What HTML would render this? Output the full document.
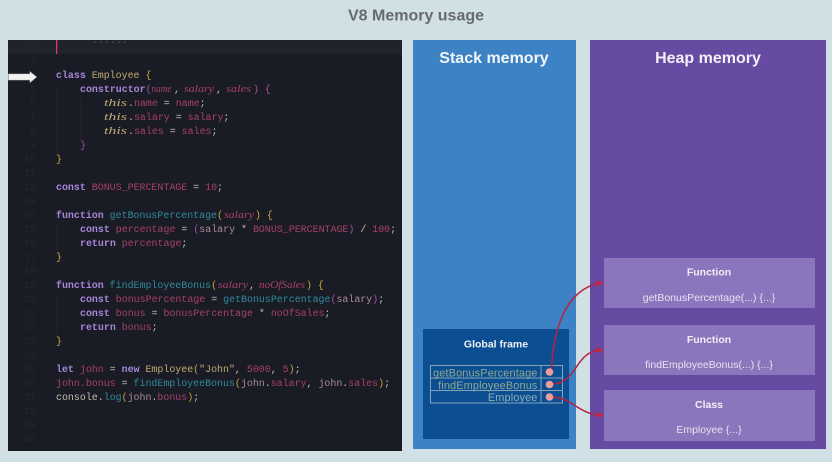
<!DOCTYPE html>
<html>
<head>
<meta charset="utf-8">
<style>
html,body{margin:0;padding:0;width:832px;height:462px;overflow:hidden;background:#d0e0e5}
svg{display:block}
.c text{font-family:"Liberation Mono",monospace;font-size:9.95px;white-space:pre}
.n text{font-family:"Liberation Mono",monospace;font-size:9.95px;fill:#24272f}
.k{fill:#a586d8;font-weight:bold}
.v{fill:#a83f68}
.f{fill:#2f8a9c}
.p{fill:#c0aa70}
.w{fill:#c4beaf}
.y{fill:#c9a43c}
.m{fill:#a24fa0}
.c text.i{fill:#a83f68;font-style:italic;font-family:"Liberation Serif",serif;font-size:10.5px}
.c text.t{fill:#c0aa70;font-style:italic;font-family:"Liberation Serif",serif;font-size:11px}
.o{fill:#a88a9a}
.s{font-family:"Liberation Sans",sans-serif}
</style>
</head>
<body>
<svg width="832" height="462" viewBox="0 0 832 462" xmlns="http://www.w3.org/2000/svg">
<defs><filter id="b" x="-2%" y="-2%" width="104%" height="104%"><feGaussianBlur stdDeviation="0.35"/></filter></defs>
<rect width="832" height="462" fill="#d0e0e5"/>
<text class="s" x="416" y="20.500" text-anchor="middle" font-size="16" font-weight="bold" fill="#666b70">V8 Memory usage</text>

<rect x="8" y="40" width="394" height="411" fill="#1a1c25"/>
<rect x="8" y="40" width="394" height="14" fill="#20222c"/>
<rect x="56" y="40" width="1.300" height="14" fill="#d8396a"/>
<g stroke="#23262f" stroke-width="1">
<path d="M57 85V154M81 99V140M57 225V250M57 295V334"/>
</g>
<g class="n" filter="url(#b)">
<text x="30" y="50">2</text><text x="30" y="64">3</text><text x="30" y="92">5</text><text x="30" y="106">6</text><text x="30" y="120">7</text><text x="30" y="134">8</text><text x="30" y="148">9</text>
<text x="24" y="162">10</text><text x="24" y="176">11</text><text x="24" y="190">12</text><text x="24" y="204">13</text><text x="24" y="218">14</text><text x="24" y="232">15</text><text x="24" y="246">16</text><text x="24" y="260">17</text><text x="24" y="274">18</text><text x="24" y="288">19</text><text x="24" y="302">20</text><text x="24" y="316">21</text><text x="24" y="330">22</text><text x="24" y="344">23</text><text x="24" y="358">24</text><text x="24" y="372">25</text><text x="24" y="386">26</text><text x="24" y="400">27</text><text x="24" y="414">28</text><text x="24" y="428">29</text><text x="24" y="442">30</text>
</g>
<g class="c" filter="url(#b)">
<text x="92" y="43" fill="#55576a">......</text>
<text x="56" y="78"><tspan class="k">class</tspan><tspan class="p"> Employee </tspan><tspan class="y">{</tspan></text>
<text x="80" y="92"><tspan class="k">constructor</tspan><tspan class="m">(</tspan></text>
<text x="151.500" y="92" class="i" textLength="20" lengthAdjust="spacingAndGlyphs">name</text><text x="174" y="92" class="w">,</text><text x="184" y="92" class="i" textLength="30" lengthAdjust="spacingAndGlyphs">salary</text><text x="216" y="92" class="w">,</text><text x="226" y="92" class="i" textLength="25" lengthAdjust="spacingAndGlyphs">sales</text><text x="253" y="92" class="m">) {</text>
<text x="104" y="106" class="t" textLength="23" lengthAdjust="spacingAndGlyphs">this</text><text x="128" y="106"><tspan class="w">.</tspan><tspan class="v">name</tspan><tspan class="w"> = </tspan><tspan class="v">name</tspan><tspan class="w">;</tspan></text>
<text x="104" y="120" class="t" textLength="23" lengthAdjust="spacingAndGlyphs">this</text><text x="128" y="120"><tspan class="w">.</tspan><tspan class="v">salary</tspan><tspan class="w"> = </tspan><tspan class="v">salary</tspan><tspan class="w">;</tspan></text>
<text x="104" y="134" class="t" textLength="23" lengthAdjust="spacingAndGlyphs">this</text><text x="128" y="134"><tspan class="w">.</tspan><tspan class="v">sales</tspan><tspan class="w"> = </tspan><tspan class="v">sales</tspan><tspan class="w">;</tspan></text>
<text x="80" y="148" class="m">}</text>
<text x="56" y="162" class="y">}</text>
<text x="56" y="190"><tspan class="k">const</tspan><tspan class="v"> BONUS_PERCENTAGE</tspan><tspan class="w"> = </tspan><tspan class="v">10</tspan><tspan class="w">;</tspan></text>
<text x="56" y="218"><tspan class="k">function</tspan><tspan class="f"> getBonusPercentage</tspan><tspan class="y">(</tspan></text>
<text x="224" y="218" class="i" textLength="30" lengthAdjust="spacingAndGlyphs">salary</text><text x="255" y="218" class="y">) {</text>
<text x="80" y="232"><tspan class="k">const</tspan><tspan class="v"> percentage</tspan><tspan class="w"> = </tspan><tspan class="m">(</tspan><tspan class="o">salary</tspan><tspan class="w"> * </tspan><tspan class="v">BONUS_PERCENTAGE</tspan><tspan class="m">)</tspan><tspan class="w"> / </tspan><tspan class="v">100</tspan><tspan class="w">;</tspan></text>
<text x="80" y="246"><tspan class="k">return</tspan><tspan class="v"> percentage</tspan><tspan class="w">;</tspan></text>
<text x="56" y="260" class="y">}</text>
<text x="56" y="288"><tspan class="k">function</tspan><tspan class="f"> findEmployeeBonus</tspan><tspan class="y">(</tspan></text>
<text x="218" y="288" class="i" textLength="30" lengthAdjust="spacingAndGlyphs">salary</text><text x="249" y="288" class="w">,</text><text x="259" y="288" class="i" textLength="46" lengthAdjust="spacingAndGlyphs">noOfSales</text><text x="306" y="288" class="y">) {</text>
<text x="80" y="302"><tspan class="k">const</tspan><tspan class="v"> bonusPercentage</tspan><tspan class="w"> = </tspan><tspan class="f">getBonusPercentage</tspan><tspan class="m">(</tspan><tspan class="o">salary</tspan><tspan class="m">)</tspan><tspan class="w">;</tspan></text>
<text x="80" y="316"><tspan class="k">const</tspan><tspan class="v"> bonus</tspan><tspan class="w"> = </tspan><tspan class="v">bonusPercentage</tspan><tspan class="w"> * </tspan><tspan class="v">noOfSales</tspan><tspan class="w">;</tspan></text>
<text x="80" y="330"><tspan class="k">return</tspan><tspan class="v"> bonus</tspan><tspan class="w">;</tspan></text>
<text x="56" y="344" class="y">}</text>
<text x="56" y="372"><tspan class="k">let</tspan><tspan class="v"> john</tspan><tspan class="w"> = </tspan><tspan class="k">new</tspan><tspan class="p"> Employee</tspan><tspan class="y">(</tspan><tspan class="p">"John"</tspan><tspan class="w">, </tspan><tspan class="v">5000</tspan><tspan class="w">, </tspan><tspan class="v">5</tspan><tspan class="y">)</tspan><tspan class="w">;</tspan></text>
<text x="56" y="386"><tspan class="v">john.bonus</tspan><tspan class="w"> = </tspan><tspan class="f">findEmployeeBonus</tspan><tspan class="y">(</tspan><tspan class="o">john</tspan><tspan class="w">.</tspan><tspan class="v">salary</tspan><tspan class="w">, </tspan><tspan class="o">john</tspan><tspan class="w">.</tspan><tspan class="v">sales</tspan><tspan class="y">)</tspan><tspan class="w">;</tspan></text>
<text x="56" y="400"><tspan class="w">console.</tspan><tspan class="f">log</tspan><tspan class="y">(</tspan><tspan class="o">john</tspan><tspan class="w">.</tspan><tspan class="v">bonus</tspan><tspan class="y">)</tspan><tspan class="w">;</tspan></text>
</g>

<path d="M8.500 74H30V71.700L36.500 77L30 82.500V80H8.500Z" fill="#f2f2f2" stroke="#c9c9c9" stroke-width="0.600"/>

<rect x="413" y="40" width="163" height="409" fill="#3d82c5"/>
<text class="s" x="494" y="63" text-anchor="middle" font-size="16" font-weight="bold" fill="#f2f6fa">Stack memory</text>
<rect x="423" y="329" width="146" height="110" fill="#0b4e92"/>
<text class="s" x="496" y="347.500" text-anchor="middle" font-size="10.500" font-weight="bold" fill="#eef2f6">Global frame</text>
<g fill="none" stroke="#86a3b8" stroke-width="1">
<rect x="430.500" y="365.500" width="132" height="12.500"/>
<rect x="430.500" y="378" width="132" height="12.500"/>
<rect x="430.500" y="390.500" width="132" height="12.500"/>
<path d="M541 365.500V403"/>
</g>
<g class="s" font-size="10.900" text-anchor="end" fill="#90a88f" filter="url(#b)">
<text x="537.500" y="376.500" letter-spacing="0.150">getBonusPercentage</text>
<text x="537.500" y="389" letter-spacing="0.150">findEmployeeBonus</text>
<text x="537.500" y="401" fill="#8fb0b5" letter-spacing="0.150">Employee</text>
</g>

<rect x="590" y="40" width="236" height="409" fill="#674ba3"/>
<text class="s" x="708" y="63" text-anchor="middle" font-size="16" font-weight="bold" fill="#f2eff8">Heap memory</text>
<rect x="604" y="258" width="211" height="50" fill="#8b76bd"/>
<rect x="604" y="325" width="211" height="50" fill="#8b76bd"/>
<rect x="604" y="390" width="211" height="51" fill="#8b76bd"/>
<g class="s" text-anchor="middle" fill="#f1eef7">
<text x="709" y="275.500" font-size="10.500" font-weight="bold">Function</text>
<text x="709" y="301" font-size="10.500" fill="#e6e2f1">getBonusPercentage(...) {...}</text>
<text x="709" y="343" font-size="10.500" font-weight="bold">Function</text>
<text x="709" y="368" font-size="10.500" fill="#e6e2f1">findEmployeeBonus(...) {...}</text>
<text x="709" y="408" font-size="10.500" font-weight="bold">Class</text>
<text x="709" y="433" font-size="10.500" fill="#e6e2f1">Employee {...}</text>
</g>

<g fill="none" stroke="#b8233f" stroke-width="1.500">
<path d="M551.500 369C553 335 563 290 600 283"/>
<path d="M551 384C578 384 574 352 600 350"/>
<path d="M551 397C572 397 578 414 600 415"/>
</g>
<g fill="#c62242">
<path d="M604 283L597 280V286Z"/>
<path d="M604 350L597 347V353Z"/>
<path d="M604 415L597 412V418Z"/>
</g>
<g fill="#ee9c9c">
<circle cx="549.500" cy="372" r="3.800"/>
<circle cx="549.500" cy="384.500" r="3.800"/>
<circle cx="549.500" cy="397" r="3.800"/>
</g>
</svg>
</body>
</html>
